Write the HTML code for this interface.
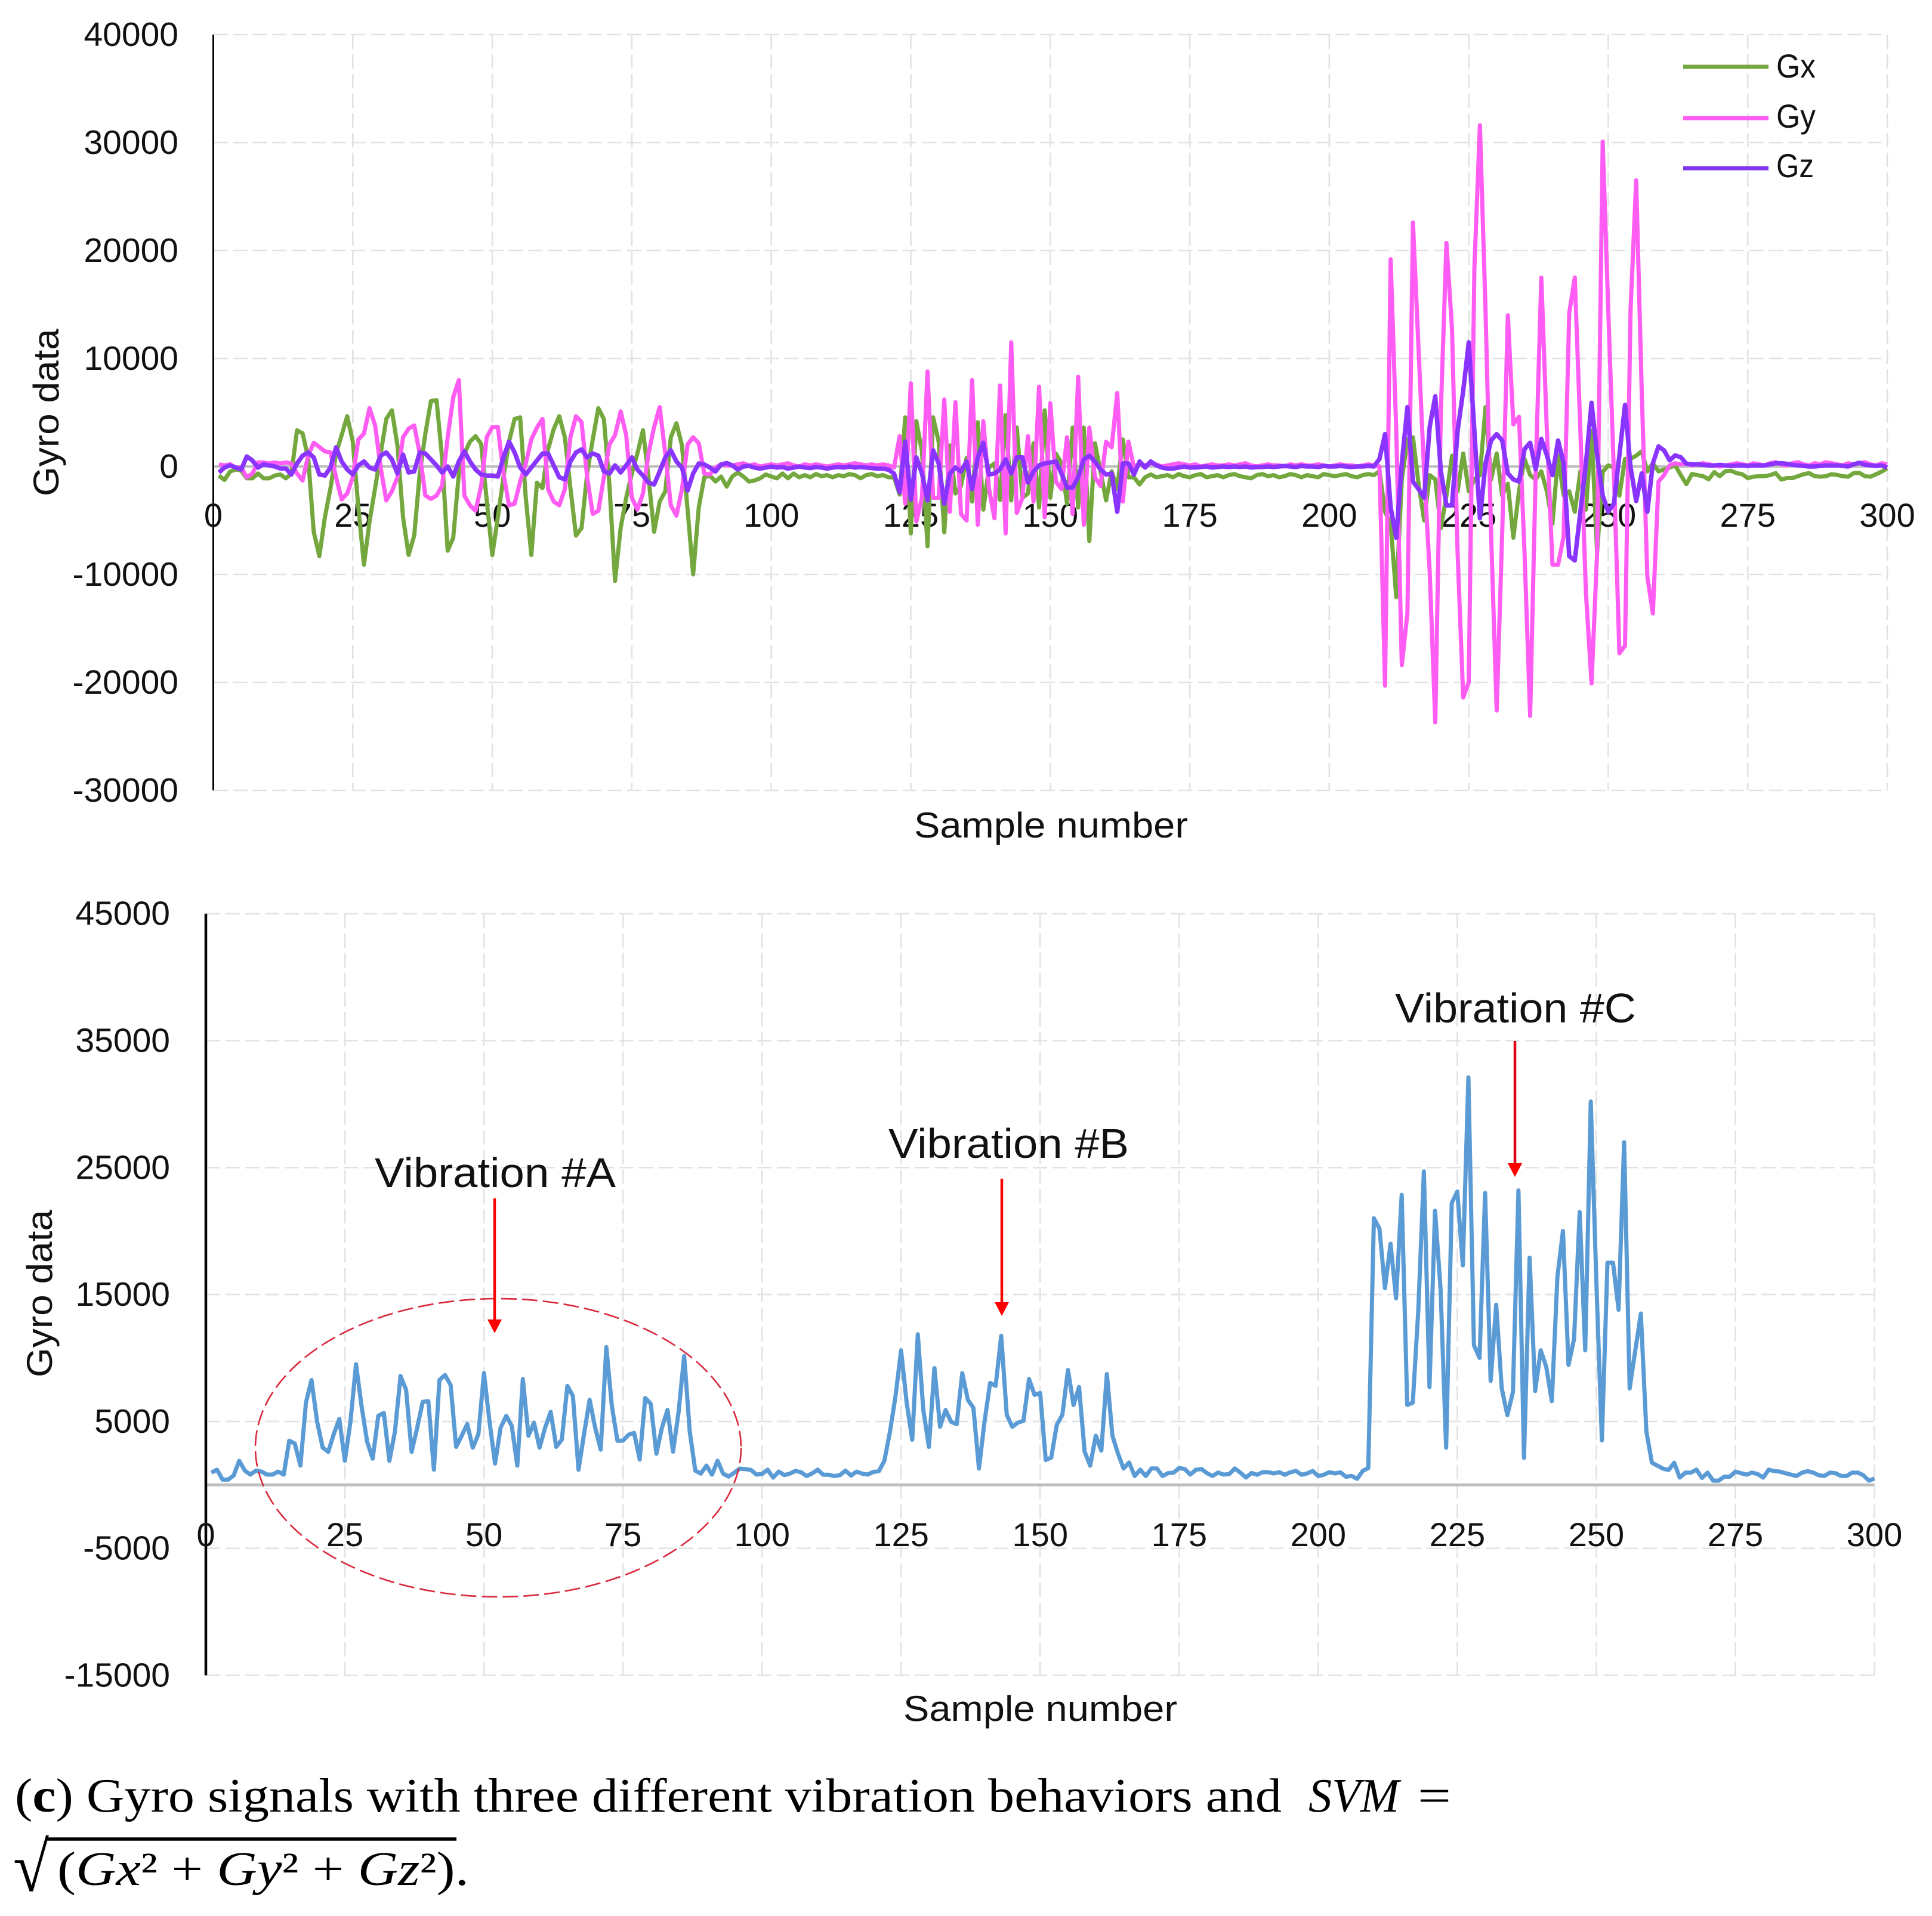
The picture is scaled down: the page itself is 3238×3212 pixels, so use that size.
<!DOCTYPE html>
<html lang="en">
<head>
<meta charset="utf-8">
<title>Gyro signals with three vibration behaviors</title>
<style>
html,body{margin:0;padding:0;background:#fff;}
svg{display:block;}
text{font-family:"Liberation Sans",sans-serif;fill:#111;}
.cap{font-family:"Liberation Serif",serif;fill:#000;}
</style>
</head>
<body>
<svg id="root" xmlns="http://www.w3.org/2000/svg" width="3238" height="3212" viewBox="0 0 3238 3212">
  <rect x="0" y="0" width="3238" height="3212" fill="#ffffff"/>
  <g id="chart1"></g>
  <g id="chart2"></g>

  <g>
    <g>
      <line x1="2821" y1="112" x2="2964" y2="112" stroke="#74A83F" stroke-width="7"/>
      <text x="2977" y="130" font-size="56" textLength="66" lengthAdjust="spacingAndGlyphs">Gx</text>
    </g>
    <g>
      <line x1="2821" y1="198" x2="2964" y2="198" stroke="#FF5CF4" stroke-width="7"/>
      <text x="2977" y="214" font-size="56" textLength="66" lengthAdjust="spacingAndGlyphs">Gy</text>
    </g>
    <g>
      <line x1="2821" y1="282" x2="2964" y2="282" stroke="#8136EE" stroke-width="7"/>
      <text x="2977" y="297" font-size="56" textLength="63" lengthAdjust="spacingAndGlyphs">Gz</text>
    </g>
  </g>

  <g>
    <ellipse cx="835" cy="2427" rx="407" ry="250" fill="none" stroke="#D9283C" stroke-width="2.6" stroke-dasharray="26 9"/>
    <text x="628" y="1990" font-size="70" textLength="404" lengthAdjust="spacingAndGlyphs">Vibration #A</text>
    <line x1="829" y1="2009" x2="829" y2="2215" stroke="#FF0000" stroke-width="4.5"/>
    <polygon points="817,2212 841,2212 829,2235" fill="#FF0000"/>
    <text x="1489" y="1941" font-size="70" textLength="403" lengthAdjust="spacingAndGlyphs">Vibration #B</text>
    <line x1="1679" y1="1976" x2="1679" y2="2188" stroke="#FF0000" stroke-width="4.5"/>
    <polygon points="1667,2183 1691,2183 1679,2206" fill="#FF0000"/>
    <text x="2338" y="1714" font-size="70" textLength="404" lengthAdjust="spacingAndGlyphs">Vibration #C</text>
    <line x1="2539" y1="1745" x2="2539" y2="1955" stroke="#E00012" stroke-width="4.5"/>
    <polygon points="2527,1950 2551,1950 2539,1973" fill="#FF0000"/>
  </g>

  <g>
    <text class="cap" x="25" y="3037" font-size="80" textLength="2123" lengthAdjust="spacingAndGlyphs">(<tspan font-weight="bold">c</tspan>) Gyro signals with three different vibration behaviors and</text>
    <text class="cap" x="2193" y="3037" font-size="80" font-style="italic" textLength="152" lengthAdjust="spacingAndGlyphs">SVM</text>
    <text class="cap" x="2376" y="3037" font-size="80" textLength="56" lengthAdjust="spacingAndGlyphs">=</text>
    <text class="cap" x="22" y="3170" font-size="118" textLength="60" lengthAdjust="spacingAndGlyphs">√</text>
    <line x1="78" y1="3083" x2="765" y2="3083" stroke="#000" stroke-width="5.5"/>
    <text class="cap" x="96" y="3160" font-size="80" textLength="690" lengthAdjust="spacingAndGlyphs">(<tspan font-style="italic">Gx</tspan>² + <tspan font-style="italic">Gy</tspan>² + <tspan font-style="italic">Gz</tspan>²).</text>
  </g>
</svg>

<script>
// ---- Tick labels ----
const xTicks = [0,25,50,75,100,125,150,175,200,225,250,275,300];
const yTicksTop = [40000,30000,20000,10000,0,-10000,-20000,-30000];
const yTicksBottom = [45000,35000,25000,15000,5000,-5000,-15000];

// ---- Series values, samples 1 to 300 ----
const gxValues = [
-840,-1250,-465,-280,-370,-1100,-1100,-650,-1100,-1100,
-840,-740,-1100,-650,3350,3070,800,-6050,-8300,-4700,
-2000,1200,2900,4650,2300,-3800,-9100,-5100,-2000,1200,
4400,5200,1950,-4700,-8200,-6400,-650,3050,6050,6150,
840,-7800,-6600,-650,1200,2300,2800,2100,-3100,-8200,
-4700,-1000,2300,4400,4550,-2900,-8200,-1500,-2000,1600,
3450,4650,2700,-2000,-6400,-5700,-650,2500,5400,4400,
-1800,-10600,-5700,-2900,-650,1200,3350,-1000,-6050,-3250,
-2300,2700,4000,1950,-4000,-10000,-3800,-1000,-840,-1400,
-930,-1860,-930,-560,-930,-1400,-1300,-1100,-740,-930,
-1100,-650,-1100,-650,-1000,-800,-1000,-700,-900,-800,
-1000,-800,-900,-700,-800,-1100,-800,-700,-900,-800,
-1000,-1000,-2600,4550,-6200,4200,1400,-7400,4550,2300,
-6100,1950,-2500,-1800,800,-3250,4100,-4000,-100,280,
-3100,4750,-3150,3600,-2900,-2500,2150,-3800,5200,-2900,
1200,300,-3450,3600,-3800,3600,-6900,2150,-450,-3150,
-450,-2100,2500,-1000,-1000,-1670,-1000,-740,-1000,-900,
-800,-1000,-700,-900,-1000,-800,-700,-1000,-900,-800,
-1000,-800,-700,-900,-1000,-1100,-800,-700,-900,-800,
-1000,-900,-700,-800,-1000,-800,-900,-1000,-700,-800,
-900,-800,-700,-900,-1000,-800,-700,-800,-450,-4200,
-5300,-12100,-1200,2500,2700,-1600,-5000,-800,-1200,-5700,
-2700,1000,-2300,1200,-2300,-1200,-800,5500,-1200,1200,
-2700,-1600,-6600,-2300,700,-800,-1200,-450,-2300,-5300,
1000,-2700,-2300,-4200,-450,-4000,3300,-8000,-500,100,
-100,-2700,700,700,1000,1400,-450,300,-450,-300,
-100,100,-800,-1640,-700,-800,-900,-1180,-530,-900,
-440,-400,-620,-720,-1080,-950,-900,-900,-800,-620,
-1210,-1080,-1080,-900,-720,-620,-900,-950,-900,-720,
-780,-900,-950,-620,-590,-900,-950,-720,-480,-160
];
const gyValues = [
200,100,200,-100,-100,-1000,-650,370,370,280,
370,280,370,280,-650,-1300,1000,2200,1800,1400,
1300,-1000,-3050,-2500,-1000,2500,3050,5400,3800,-100,
-3150,-2300,-1000,2700,3500,3800,1200,-2700,-3000,-2700,
-1800,2700,6400,8000,-2700,-3600,-4100,-1800,2700,3650,
3650,-650,-3600,-3450,-1400,280,2500,3600,4400,-2100,
-3250,-3600,-2100,2700,4650,4100,-1000,-4400,-4100,-1000,
2050,2900,5100,2900,-2900,-4000,-2500,1200,3650,5500,
1200,-3600,-4550,-2100,2050,2700,2150,-650,-740,-100,
200,100,100,200,300,100,200,0,100,200,
100,200,300,100,0,200,100,200,100,0,
100,200,100,200,300,200,100,200,100,200,
100,-100,2800,-3450,7700,-5100,-2900,8800,-2900,-2900,
6200,-4200,5950,-4400,-5000,8000,-5400,4200,-2000,-4800,
7500,-6200,11500,-4300,-2900,2800,-3250,7400,-4700,5860,
-1400,-2100,2700,-4400,8300,-5400,3600,-1000,-1800,2300,
1770,6800,-3250,2300,-100,280,100,300,200,0,
100,200,300,200,100,200,0,100,200,100,
100,200,100,200,300,100,0,100,200,100,
100,0,200,100,200,100,100,200,100,0,
100,200,100,100,0,100,200,100,0,-20300,
19200,3300,-18400,-13600,22600,10800,-450,-9800,-23700,5200,
20700,12700,-8000,-21400,-20000,18300,31600,14500,-6100,-22600,
-6100,14000,3900,4600,-8000,-23100,-500,17500,3300,-9100,
-9100,-6500,14200,17500,3300,-11700,-20100,-8000,30100,14500,
-450,-17300,-16600,14500,26500,7000,-10200,-13600,-1400,-800,
100,300,200,300,100,200,300,200,100,0,
100,200,300,200,100,300,200,100,300,400,
200,100,300,400,200,100,300,200,400,300,
200,100,300,200,300,400,200,100,300,200
];
const gzValues = [
-560,-100,100,-100,-280,930,560,-100,190,100,
0,-190,-190,-740,280,1000,1300,840,-740,-840,
-100,1770,465,-280,-740,100,465,-100,-280,1000,
1300,650,-650,1100,-560,-465,1300,1200,650,100,
-560,0,-930,465,1400,465,-280,-740,-840,-840,
-930,840,2300,1300,-100,-740,-100,560,1200,1200,
100,-1000,-1200,465,1300,1580,840,1200,1000,-465,
-650,100,-560,100,840,-280,-840,-1500,-1670,-465,
840,1500,465,-100,-2230,-650,280,190,-100,-465,
190,320,100,-280,0,50,-100,-200,-100,0,
-100,-50,-200,-100,0,-100,-150,-50,-100,-200,
-100,-50,-100,0,-100,-50,-100,-150,-200,-200,
-300,-650,-2400,2300,-3070,840,-650,-3150,1500,280,
-3450,-650,-100,-465,465,-2100,840,2200,-740,-650,
-280,650,-650,840,840,-1500,-465,100,280,370,
465,-650,-1950,-1950,-1000,650,1000,465,-280,-740,
-650,-4200,280,280,-740,465,-100,465,100,-100,
-200,-200,-100,0,-100,-100,-50,0,-100,-50,
0,-50,0,-50,0,-100,-50,-50,0,-50,
0,50,0,-50,50,0,0,-50,50,0,
0,50,0,-50,0,0,50,0,700,3000,
-3800,-6600,300,5500,-1400,-2100,-2900,3700,6500,-450,
-3600,-3600,3300,7000,11500,3300,-4800,300,2400,3000,
2400,-640,-1200,-1400,1600,2200,-260,2550,1050,-800,
2400,300,-8300,-8700,-4200,300,5900,1050,-2700,-4200,
-3450,1050,5700,-80,-3200,-640,-4200,300,1860,1490,
570,1030,850,260,200,200,150,100,100,150,
100,50,100,100,50,100,100,100,200,300,
300,250,150,100,50,0,0,50,100,100,
100,50,0,200,350,150,100,50,100,-100
];
const svmValues = [
970,1200,420,420,740,1900,1130,815,1130,1050,
815,815,1050,815,3480,3250,1520,6500,8260,5000,
2930,2600,4000,5200,1900,5000,9500,6200,3400,2070,
5440,5670,1900,4200,8580,7480,2600,4500,6540,6600,
1200,8260,8650,7870,3000,3870,4800,2930,4000,8800,
5000,1680,4500,5440,4650,1520,8340,3870,4900,2930,
4500,5750,3000,3560,7800,7000,1200,4030,6700,4500,
2775,10850,6200,3480,3480,3950,4100,2000,6850,6380,
2460,4500,5900,2620,5750,10150,4200,1130,890,1520,
815,1900,890,660,970,1285,1240,1180,815,860,
1200,580,1050,770,890,1100,1000,700,900,1200,
800,800,700,770,1130,740,1050,890,815,1020,
1080,1900,4200,7000,10600,6500,3560,11870,5900,3000,
9200,4580,5900,4970,4780,8800,6700,6070,1290,4970,
8030,7800,11750,5520,4580,4900,5050,8340,7090,7240,
1960,2150,4740,5520,9050,6300,7710,2620,1520,3870,
2700,8730,3870,2460,1290,1760,700,1200,700,1290,
1290,700,925,970,1330,1250,815,1200,1250,925,
700,970,815,850,1290,970,580,940,800,1000,
1000,900,1000,800,1000,1100,800,900,1100,700,
800,1000,900,985,640,710,480,1100,1330,21000,
20200,15500,19000,14700,22850,6300,6480,13800,24700,7700,
21600,15400,2930,22200,23100,17300,32100,11000,10000,23000,
8200,14200,7600,5500,7300,23200,2130,17900,7400,10600,
9300,6600,16400,20000,9450,11500,21500,10600,30200,16100,
3500,17500,17500,13800,27000,7600,10600,13500,4200,1750,
1510,1280,1170,1750,580,970,970,1200,550,970,
340,340,650,650,1050,920,810,970,860,580,
1200,1080,1050,920,810,700,970,1080,970,760,
700,970,920,700,700,970,970,760,340,500
];

// ---- Axis functions ----
const topX = n => 357.5 + n * (3163 - 357.5) / 300;
const topY = v => 782 - v * 0.0181;
const botX = n => 345 + n * (3141.5 - 345) / 300;
const botY = v => 2489.3 - v * 0.02128;

const NS = 'http://www.w3.org/2000/svg';
function mk(parent, tag, attrs, txt) {
  const el = document.createElementNS(NS, tag);
  for (const k in attrs) el.setAttribute(k, attrs[k]);
  if (txt !== undefined) el.textContent = txt;
  parent.appendChild(el);
  return el;
}
function seriesPoints(values, xf, yf) {
  return values.map((v, i) => xf(i + 1).toFixed(1) + ',' + yf(v).toFixed(1)).join(' ');
}

function drawFrame(root, prefix, xf, yf, yTicks, yTop, yBot, labelRight, xLabelBase, axisWidth, zeroWidth) {
  const xEnd = xf(300);
  yTicks.forEach(t => {
    const gl = mk(root, 'line', {x1: xf(0), x2: xEnd, y1: yf(t), y2: yf(t), stroke: '#E2E2E2', 'stroke-width': 2.6, 'stroke-dasharray': '24 9'});
    
    
  });
  xTicks.slice(1).forEach(t => {
    const gl = mk(root, 'line', {x1: xf(t), x2: xf(t), y1: yf(yTop), y2: yf(yBot), stroke: '#E2E2E2', 'stroke-width': 2.6, 'stroke-dasharray': '24 9'});
    
    
  });
  const zero = mk(root, 'line', {x1: xf(0), x2: xEnd, y1: yf(0), y2: yf(0), stroke: '#BFBFBF', 'stroke-width': zeroWidth});
  
  
  const yAxis = mk(root, 'line', {x1: xf(0), x2: xf(0), y1: yf(yTop), y2: yf(yBot), stroke: '#000', 'stroke-width': axisWidth});
  
  
  yTicks.forEach(t => {
    const lb = mk(root, 'text', {x: labelRight, y: yf(t) + 19, 'font-size': 57, 'text-anchor': 'end'}, String(t));
    
    
  });
  xTicks.forEach(t => {
    const lb = mk(root, 'text', {x: xf(t), y: xLabelBase, 'font-size': 56, 'text-anchor': 'middle'}, String(t));
    
    
  });
}

// ---- Top chart ----
const c1 = document.getElementById('chart1');
drawFrame(c1, 'top', topX, topY, yTicksTop, 40000, -30000, 299, 883, 3, 4);
const gxLine = mk(c1, 'polyline', {points: seriesPoints(gxValues, topX, topY), fill: 'none', stroke: '#74A83F', 'stroke-width': 7, 'stroke-linejoin': 'round'});


const gyLine = mk(c1, 'polyline', {points: seriesPoints(gyValues, topX, topY), fill: 'none', stroke: '#FF5CF4', 'stroke-width': 7, 'stroke-linejoin': 'round'});


const gzLine = mk(c1, 'polyline', {points: seriesPoints(gzValues, topX, topY), fill: 'none', stroke: '#8A35FF', 'stroke-width': 7.5, 'stroke-linejoin': 'round'});


const t1x = mk(c1, 'text', {x: 1532, y: 1404, 'font-size': 60, textLength: 459, lengthAdjust: 'spacingAndGlyphs'}, 'Sample number');


const t1y = mk(c1, 'text', {x: 0, y: 0, 'font-size': 60, textLength: 281, lengthAdjust: 'spacingAndGlyphs', transform: 'translate(98 832) rotate(-90)'}, 'Gyro data');



// ---- Bottom chart ----
const c2 = document.getElementById('chart2');
drawFrame(c2, 'bottom', botX, botY, yTicksBottom, 45000, -15000, 285, 2592, 4.5, 5);
const svmLine = mk(c2, 'polyline', {points: seriesPoints(svmValues, botX, botY), fill: 'none', stroke: '#5B9BD5', 'stroke-width': 7, 'stroke-linejoin': 'round'});


const t2x = mk(c2, 'text', {x: 1514, y: 2885, 'font-size': 60, textLength: 459, lengthAdjust: 'spacingAndGlyphs'}, 'Sample number');


const t2y = mk(c2, 'text', {x: 0, y: 0, 'font-size': 60, textLength: 281, lengthAdjust: 'spacingAndGlyphs', transform: 'translate(87 2309) rotate(-90)'}, 'Gyro data');


</script>
</body>
</html>
